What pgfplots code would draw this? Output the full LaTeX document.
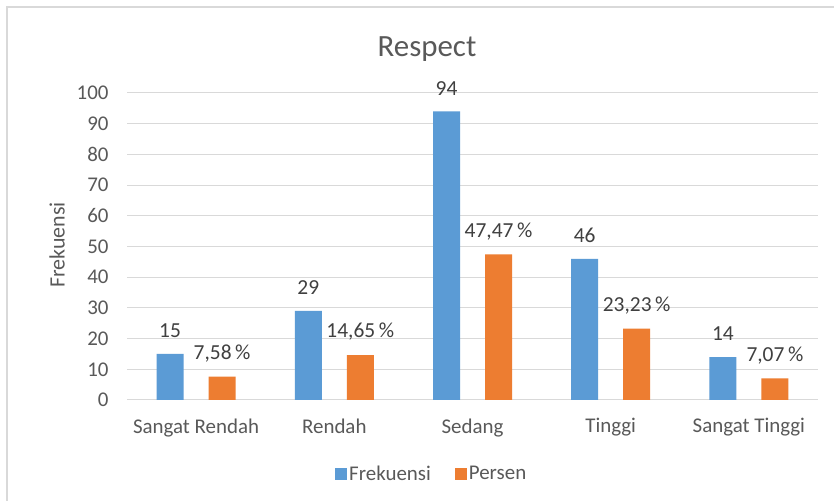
\documentclass[border=0pt]{standalone}
\usepackage{pgfplots}
\pgfplotsset{compat=1.18}
\usepackage{fontspec}
\setmainfont{Carlito}
\definecolor{fblue}{HTML}{5B9BD5}
\definecolor{forange}{HTML}{ED7D31}
\definecolor{tgray}{HTML}{595959}
\definecolor{lgray}{HTML}{404040}
\definecolor{gridc}{HTML}{D9D9D9}
\begin{document}
\begin{tikzpicture}[x=1bp,y=1bp]
\useasboundingbox (0,0) rectangle (834,501);
\fill[white] (0,0) rectangle (834,501);
\begin{scope}
\clip (0,0) rectangle (834,501);
\draw[gridc, line width=1.2bp] (7,-10) rectangle (850,494);
\end{scope}
\node[font=\fontsize{31}{36}\selectfont, text=tgray] at (427,452) {Respect};
\begin{axis}[
  at={(127bp,101bp)}, anchor=south west,
  scale only axis, width=691bp, height=307bp,
  xmin=-0.5, xmax=4.5, ymin=0, ymax=100,
  ytick={0,10,...,100},
  xtick={0,1,2,3,4},
  xticklabels={Sangat Rendah,Rendah,Sedang,Tinggi,Sangat Tinggi},
  ymajorgrids, grid style={gridc, line width=1bp},
  axis x line*=bottom, axis y line*=left,
  y axis line style={draw=none},
  x axis line style={gridc, line width=1bp},
  major tick length=0pt,
  tick label style={font=\fontsize{21}{25}\selectfont, text=tgray},
  /pgf/number format/assume math mode=true,
  yticklabel style={xshift=-15bp},
  xticklabel style={yshift=-15bp},
  ylabel={Frekuensi},
  ylabel style={font=\fontsize{22}{26}\selectfont, text=tgray, at={(axis description cs:-0.1013,0.505)}, anchor=center, rotate=0},
  ybar, bar width=27bp,
  nodes near coords,
  point meta=explicit symbolic,
  nodes near coords style={font=\fontsize{21.5}{25}\selectfont, text=lgray, anchor=center, yshift=23bp},
  legend columns=2,
  legend style={at={(axis description cs:0.441,-0.241)}, anchor=center, draw=none, fill=none,
    font=\fontsize{21}{25}\selectfont, text=tgray,
    /tikz/every even column/.append style={column sep=22bp}},
  legend image code/.code={\fill[#1] (0bp,-6bp) rectangle (12bp,6bp);},
]
\addplot[fill=fblue, draw=none, bar shift=-26bp] coordinates {
  (0,15) [15]
  (1,29) [29]
  (2,94) [94]
  (3,46) [46]
  (4,14) [14]
};
\addplot[fill=forange, draw=none, bar shift=26bp] coordinates {
  (0,7.58) [7{,}58\,\%]
  (1,14.65) [14{,}65\,\%]
  (2,47.47) [47{,}47\,\%]
  (3,23.23) [23{,}23\,\%]
  (4,7.07) [7{,}07\,\%]
};
\legend{Frekuensi,Persen}
\end{axis}
\end{tikzpicture}
\end{document}
